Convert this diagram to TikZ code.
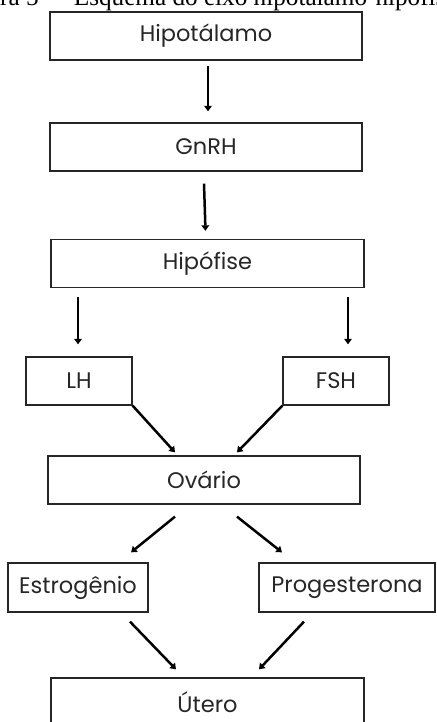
\documentclass[tikz,border=0pt]{standalone}
\usepackage{fontspec}
\usetikzlibrary{calc,arrows.meta}
\newfontfamily\boxfont{Poppins}
\newfontfamily\capfont{Liberation Serif}
\begin{document}
\begin{tikzpicture}[x=1pt,y=-1pt,
  stage/.style={draw=black!85,line width=1.3pt,minimum height=48pt,inner sep=0pt,
    font=\boxfont\fontsize{22.5}{24}\selectfont,text=black!85},
  arr/.style={line width=2.5pt,-{Triangle[length=5.5pt,width=7.5pt]}},
]
\useasboundingbox (0,0) rectangle (436,722);
\clip (0,0) rectangle (436,722);

% caption line, running past the page edges
\node[anchor=base west,inner sep=0pt,font=\capfont\fontsize{25.2}{28}\selectfont] (cap) at (0,6)
  {ra 5\hspace{5pt} –\hspace{5pt} Esquema do eixo hipotálamo-hipofis};

% stages of the axis
\node[stage,minimum width=312pt] (hipot) at (206,36) {Hipotálamo};
\node[stage,minimum width=312pt] (gnrh)  at (206,147) {GnRH};
\node[stage,minimum width=313pt] (hipof) at (207.5,263.5) {Hipófise};
\node[stage,minimum width=106pt] (lh)    at (79,381) {LH};
\node[stage,minimum width=106pt] (fsh)   at (336,381) {FSH};
\node[stage,minimum width=312pt] (ovar)  at (204,480) {Ovário};
\node[stage,minimum width=140pt,minimum height=49pt] (estr) at (78,587.5) {Estrogênio};
\node[stage,minimum width=176pt,minimum height=49pt] (prog) at (347,587.5) {Progesterona};
\node[stage,minimum width=313pt] (utero) at (207.5,702) {Útero};

% connectors
\draw[arr] ($(hipot.south)+(2,5)$) -- ($(gnrh.north)+(2,-11)$);
\draw[arr] ($(gnrh.south)+(-2,12)$) -- ($(hipof.north)+(-2,-8)$);
\draw[arr] ($(hipof.south -| lh.north)+(-1,9)$) -- ($(lh.north)+(-1,-12)$);
\draw[arr] ($(hipof.south -| fsh.north)+(12,9)$) -- ($(fsh.north)+(12,-12)$);
\draw[arr] (lh.south east) -- ($(ovar.north)+(-29,-3)$);
\draw[arr] (fsh.south west) -- ($(ovar.north)+(33,-3)$);
\draw[arr] ($(ovar.south)+(-29,12)$) -- ($(estr.north)+(53,-10)$);
\draw[arr] ($(ovar.south)+(33,12)$) -- ($(prog.north)+(-65,-10)$);
\draw[arr] ($(estr.south)+(52,9)$) -- ($(utero.north)+(-31.5,-8)$);
\draw[arr] ($(prog.south)+(-43,9)$) -- ($(utero.north)+(51.5,-8)$);
\end{tikzpicture}
\end{document}
